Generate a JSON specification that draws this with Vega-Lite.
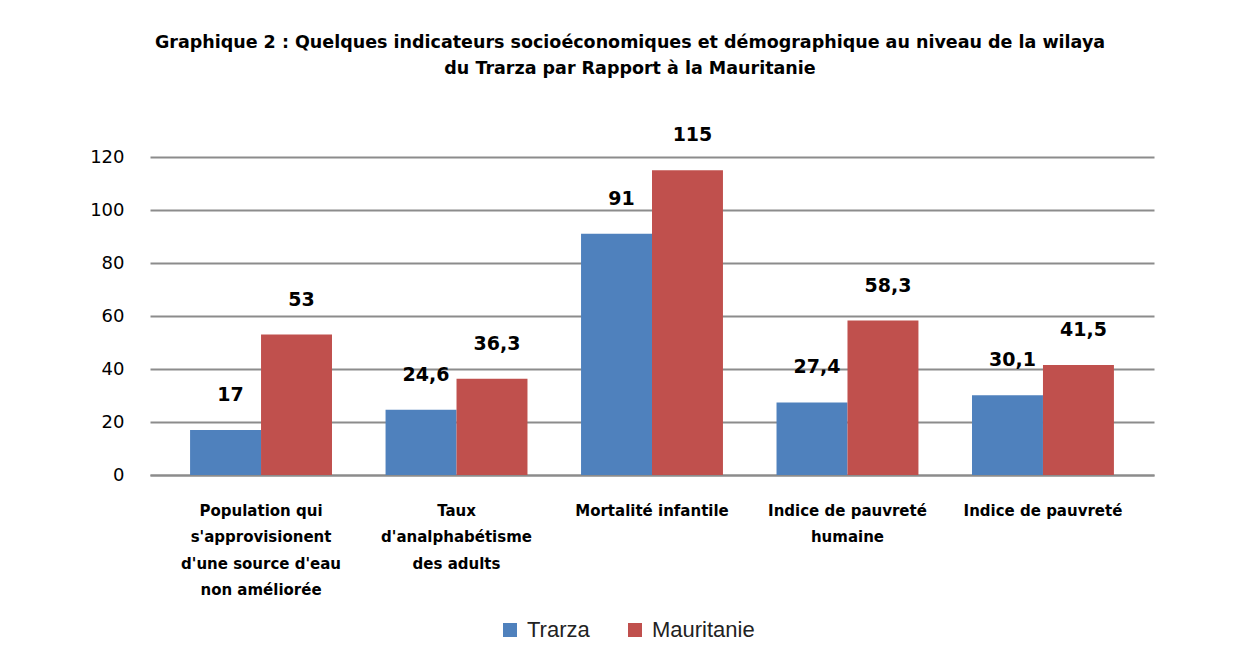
{
  "$schema": "https://vega.github.io/schema/vega-lite/v6.json",
  "autosize": "none",
  "width": 1004,
  "height": 318,
  "padding": {"left": 150, "top": 157, "right": 94, "bottom": 191},
  "background": "#ffffff",
  "config": {"view": {"stroke": null}},
  "title": {
    "text": ["Graphique 2 : Quelques indicateurs socioéconomiques et démographique au niveau de la wilaya", "du Trarza par Rapport à la Mauritanie"],
    "font": "DejaVu Sans",
    "fontSize": 17.5,
    "fontWeight": "bold",
    "color": "#000000",
    "lineHeight": 26,
    "anchor": "middle",
    "dx": -22,
    "offset": 49
  },
  "data": {
    "values": [
      {"indicateur": "Population qui s'approvisionent d'une source d'eau non améliorée", "serie": "Trarza", "valeur": 17, "etiquette": "17"},
      {"indicateur": "Population qui s'approvisionent d'une source d'eau non améliorée", "serie": "Mauritanie", "valeur": 53, "etiquette": "53"},
      {"indicateur": "Taux d'analphabétisme des adults", "serie": "Trarza", "valeur": 24.6, "etiquette": "24,6"},
      {"indicateur": "Taux d'analphabétisme des adults", "serie": "Mauritanie", "valeur": 36.3, "etiquette": "36,3"},
      {"indicateur": "Mortalité infantile", "serie": "Trarza", "valeur": 91, "etiquette": "91"},
      {"indicateur": "Mortalité infantile", "serie": "Mauritanie", "valeur": 115, "etiquette": "115"},
      {"indicateur": "Indice de pauvreté humaine", "serie": "Trarza", "valeur": 27.4, "etiquette": "27,4"},
      {"indicateur": "Indice de pauvreté humaine", "serie": "Mauritanie", "valeur": 58.3, "etiquette": "58,3"},
      {"indicateur": "Indice de pauvreté", "serie": "Trarza", "valeur": 30.1, "etiquette": "30,1"},
      {"indicateur": "Indice de pauvreté", "serie": "Mauritanie", "valeur": 41.5, "etiquette": "41,5"}
    ]
  },
  "encoding": {
    "x": {
      "field": "indicateur",
      "type": "nominal",
      "sort": null,
      "scale": {"paddingInner": 0.274, "paddingOuter": 0.205},
      "axis": {
        "title": null,
        "labelAngle": 0,
        "labelFont": "DejaVu Sans",
        "labelFontSize": 15,
        "labelFontWeight": "bold",
        "labelColor": "#000000",
        "labelLineHeight": 26.5,
        "labelPadding": 28,
        "labelBaseline": "top",
        "labelLimit": 300,
        "labelExpr": "datum.value == 'Population qui s\\'approvisionent d\\'une source d\\'eau non améliorée' ? ['Population qui', 's\\'approvisionent', 'd\\'une source d\\'eau', 'non améliorée'] : datum.value == 'Taux d\\'analphabétisme des adults' ? ['Taux', 'd\\'analphabétisme', 'des adults'] : datum.value == 'Indice de pauvreté humaine' ? ['Indice de pauvreté', 'humaine'] : datum.value",
        "ticks": false,
        "domainColor": "#8c8c8c",
        "domainWidth": 2
      }
    },
    "xOffset": {"field": "serie", "type": "nominal", "sort": ["Trarza", "Mauritanie"]},
    "y": {
      "field": "valeur",
      "type": "quantitative",
      "scale": {"domain": [0, 120], "nice": false},
      "axis": {
        "title": null,
        "values": [0, 20, 40, 60, 80, 100, 120],
        "labelFont": "DejaVu Sans",
        "labelFontSize": 18,
        "labelColor": "#000000",
        "labelPadding": 26,
        "ticks": false,
        "domain": false,
        "gridColor": "#8c8c8c",
        "gridWidth": 2
      }
    }
  },
  "layer": [
    {
      "mark": {"type": "bar"},
      "encoding": {
        "color": {
          "field": "serie",
          "type": "nominal",
          "sort": ["Trarza", "Mauritanie"],
          "scale": {"domain": ["Trarza", "Mauritanie"], "range": ["#4f81bd", "#c0504d"]},
          "legend": {
            "title": null,
            "orient": "none",
            "legendX": 349,
            "legendY": 462,
            "direction": "horizontal",
            "symbolType": "square",
            "symbolSize": 196,
            "symbolStrokeWidth": 0,
            "labelFont": "Liberation Sans",
            "labelFontSize": 22,
            "labelColor": "#222222",
            "columnPadding": 34,
            "labelOffset": 6
          }
        }
      }
    },
    {
      "mark": {"type": "text", "font": "DejaVu Sans", "fontSize": 19, "fontWeight": "bold", "color": "#000000", "baseline": "bottom", "dy": -25, "dx": 5},
      "encoding": {
        "text": {"field": "etiquette", "type": "nominal"}
      }
    }
  ]
}
